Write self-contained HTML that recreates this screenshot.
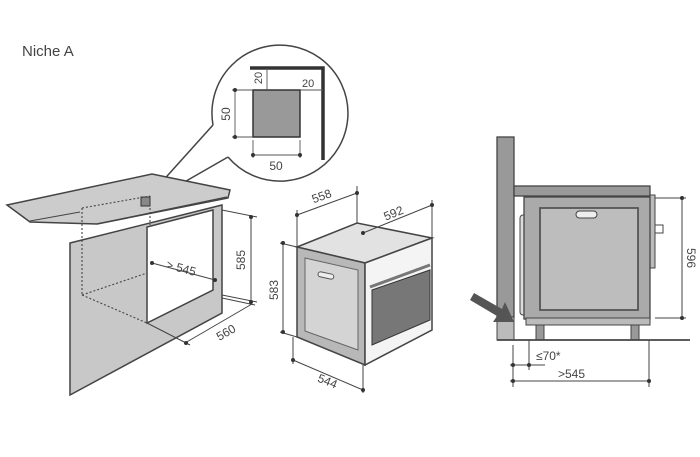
<!DOCTYPE html>
<html><head><meta charset="utf-8"><style>
html,body{margin:0;padding:0;background:#fff;}
svg{display:block;font-family:"Liberation Sans",sans-serif;}
</style></head><body>
<svg width="700" height="457" viewBox="0 0 700 457" xmlns="http://www.w3.org/2000/svg">
<text x="22" y="56" font-size="15" fill="#444">Niche A</text>
<!-- callout circle -->
<g stroke="#444" stroke-width="1.5" fill="none">
<path d="M213,125 A68,68 0 1 1 228,157"/>
<line x1="213" y1="125" x2="150" y2="195"/>
<line x1="228" y1="157" x2="160" y2="196"/>
</g>
<rect x="253" y="90" width="47" height="47" fill="#999" stroke="#333" stroke-width="1.5"/>
<path d="M250,68 H323 V160" fill="none" stroke="#333" stroke-width="3.5"/>
<g stroke="#555" stroke-width="0.9" fill="none">
<line x1="267" y1="68" x2="267" y2="90"/>
<line x1="300" y1="90" x2="323" y2="90"/>
<line x1="235" y1="90" x2="235" y2="137"/>
<line x1="253" y1="140" x2="253" y2="158"/><line x1="300" y1="140" x2="300" y2="158"/>
<line x1="253" y1="155" x2="300" y2="155"/>
<line x1="232" y1="90" x2="253" y2="90"/><line x1="232" y1="137" x2="253" y2="137"/>
</g>
<g fill="#333"><circle cx="235" cy="90" r="2"/><circle cx="235" cy="137" r="2"/><circle cx="253" cy="155" r="2"/><circle cx="300" cy="155" r="2"/></g>
<g fill="#444" font-size="12">
<text x="230" y="114" transform="rotate(-90 230 114)" text-anchor="middle">50</text>
<text x="276" y="170" text-anchor="middle">50</text>
<text x="262" y="78" transform="rotate(-90 262 78)" text-anchor="middle" font-size="11">20</text>
<text x="302" y="87" font-size="11">20</text>
</g>
<!-- left cabinet -->
<polygon points="7,205 152,174 230,190 228,198 97,224 30,222" fill="#ccc" stroke="#444" stroke-width="1.5"/>
<line x1="30" y1="221" x2="80" y2="212" stroke="#444"/>
<line x1="97" y1="224" x2="227" y2="197" stroke="#444" stroke-width="1.3"/>
<rect x="141" y="197" width="9" height="9" fill="#888" stroke="#333"/>
<polygon points="70,243 222,205 222,313 70,395" fill="#c8c8c8" stroke="#444" stroke-width="1.5"/>
<polygon points="147,227 213,210 213,290 147,323" fill="#fff" stroke="#444" stroke-width="1.5"/>
<g stroke="#444" stroke-width="1.1" stroke-dasharray="2,2" fill="none">
<line x1="82" y1="208" x2="82" y2="295"/>
<line x1="82" y1="295" x2="147" y2="323"/>
<line x1="82" y1="295" x2="147" y2="273"/>
<line x1="82" y1="208" x2="150" y2="196"/>
<line x1="150" y1="196" x2="150" y2="225"/>
</g>
<g stroke="#444" stroke-width="1" fill="none">
<line x1="152" y1="263" x2="215" y2="280"/>
<line x1="222" y1="210" x2="257" y2="217"/><line x1="222" y1="295" x2="257" y2="302"/>
<line x1="251" y1="217" x2="251" y2="302"/>
<line x1="147" y1="323" x2="190" y2="345"/>
<line x1="222" y1="298" x2="255" y2="305"/>
<line x1="185" y1="343" x2="252" y2="304"/>
</g>
<g fill="#333"><circle cx="152" cy="263" r="2"/><circle cx="215" cy="280" r="2"/><circle cx="251" cy="217" r="2"/><circle cx="251" cy="302" r="2"/><circle cx="186" cy="343" r="2"/></g>
<g fill="#444" font-size="12">
<text x="180" y="272" transform="rotate(15 180 272)" text-anchor="middle">&gt; 545</text>
<text x="245" y="260" transform="rotate(-90 245 260)" text-anchor="middle">585</text>
<text x="228" y="336" transform="rotate(-30 228 336)" text-anchor="middle">560</text>
</g>
<!-- middle oven -->
<polygon points="297,247 357,223 432,238 365,263" fill="#e2e2e2" stroke="#444" stroke-width="1.5"/>
<polygon points="297,247 365,263 365,365 297,337" fill="#b8b8b8" stroke="#444" stroke-width="1.5"/>
<polygon points="305,258 358,270 358,350 305,331" fill="#d4d4d4" stroke="#666"/>
<rect x="318" y="273" width="16" height="5" rx="2.5" fill="#eee" stroke="#555" transform="rotate(12 326 275)"/>
<polygon points="365,263 432,238 432,330 365,365" fill="#f4f4f4" stroke="#444" stroke-width="1.5"/>
<polygon points="372,290 430,270 430,320 372,345" fill="#777" stroke="#333"/>
<line x1="370" y1="287" x2="430" y2="265" stroke="#777" stroke-width="3"/>
<g stroke="#444" stroke-width="1" fill="none">
<line x1="297" y1="215" x2="357" y2="193"/>
<line x1="297" y1="210" x2="297" y2="247"/><line x1="357" y1="186" x2="357" y2="223"/>
<line x1="363" y1="233" x2="432" y2="205"/><line x1="432" y1="200" x2="432" y2="238"/>
<line x1="283" y1="243" x2="283" y2="332"/>
<line x1="280" y1="243" x2="297" y2="247"/><line x1="280" y1="332" x2="297" y2="337"/>
<line x1="293" y1="360" x2="363" y2="390"/>
<line x1="293" y1="337" x2="293" y2="364"/><line x1="363" y1="365" x2="363" y2="393"/>
</g>
<g fill="#333"><circle cx="297" cy="215" r="2"/><circle cx="357" cy="193" r="2"/><circle cx="363" cy="233" r="2"/><circle cx="432" cy="205" r="2"/><circle cx="283" cy="243" r="2"/><circle cx="283" cy="332" r="2"/><circle cx="293" cy="360" r="2"/><circle cx="363" cy="390" r="2"/></g>
<g fill="#444" font-size="12">
<text x="323" y="200" transform="rotate(-20 323 200)" text-anchor="middle">558</text>
<text x="395" y="217" transform="rotate(-22 395 217)" text-anchor="middle">592</text>
<text x="278" y="290" transform="rotate(-90 278 290)" text-anchor="middle">583</text>
<text x="326" y="385" transform="rotate(22 326 385)" text-anchor="middle">544</text>
</g>
<!-- right side view -->
<rect x="497" y="137" width="17" height="180" fill="#999" stroke="#444" stroke-width="1.3"/>
<rect x="497" y="317" width="17" height="23" fill="#bbb" stroke="#444"/>
<rect x="514" y="186" width="136" height="10" fill="#999" stroke="#444" stroke-width="1.3"/>
<rect x="650" y="195" width="5" height="73" fill="#bbb" stroke="#444"/>
<rect x="655" y="225" width="8" height="8" fill="#fff" stroke="#444"/>
<rect x="520" y="215" width="7" height="100" rx="3" fill="#ddd" stroke="#444"/>
<rect x="524" y="197" width="126" height="122" fill="#aaa" stroke="#444" stroke-width="1.3"/>
<rect x="540" y="208" width="98" height="102" fill="#bdbdbd" stroke="#555" stroke-width="1.8"/>
<rect x="576" y="211" width="21" height="7" rx="3.5" fill="#eee" stroke="#444"/>
<rect x="526" y="318" width="124" height="7" fill="#bbb" stroke="#444"/>
<rect x="536" y="325" width="8" height="15" fill="#999" stroke="#444"/>
<rect x="631" y="325" width="8" height="15" fill="#999" stroke="#444"/>
<line x1="497" y1="340" x2="690" y2="340" stroke="#444" stroke-width="1.8"/>
<polygon points="470,300 474,293 502,309 505,302 514,322 493,322 497,316" fill="#555"/>
<g stroke="#444" stroke-width="1" fill="none">
<line x1="655" y1="198" x2="686" y2="198"/><line x1="655" y1="318" x2="686" y2="318"/>
<line x1="682" y1="198" x2="682" y2="318"/>
<line x1="513" y1="345" x2="513" y2="387"/><line x1="529" y1="340" x2="529" y2="370"/><line x1="649" y1="340" x2="649" y2="387"/>
<line x1="510" y1="365" x2="545" y2="365"/>
<line x1="510" y1="381" x2="650" y2="381"/>
</g>
<g fill="#333"><circle cx="682" cy="198" r="2"/><circle cx="682" cy="318" r="2"/><circle cx="513" cy="365" r="2"/><circle cx="529" cy="365" r="2"/><circle cx="513" cy="381" r="2"/><circle cx="649" cy="381" r="2"/></g>
<g fill="#444" font-size="12">
<text x="687" y="258" transform="rotate(90 687 258)" text-anchor="middle">596</text>
<text x="536" y="360">≤70*</text>
<text x="558" y="378">&gt;545</text>
</g>
</svg>
</body></html>
